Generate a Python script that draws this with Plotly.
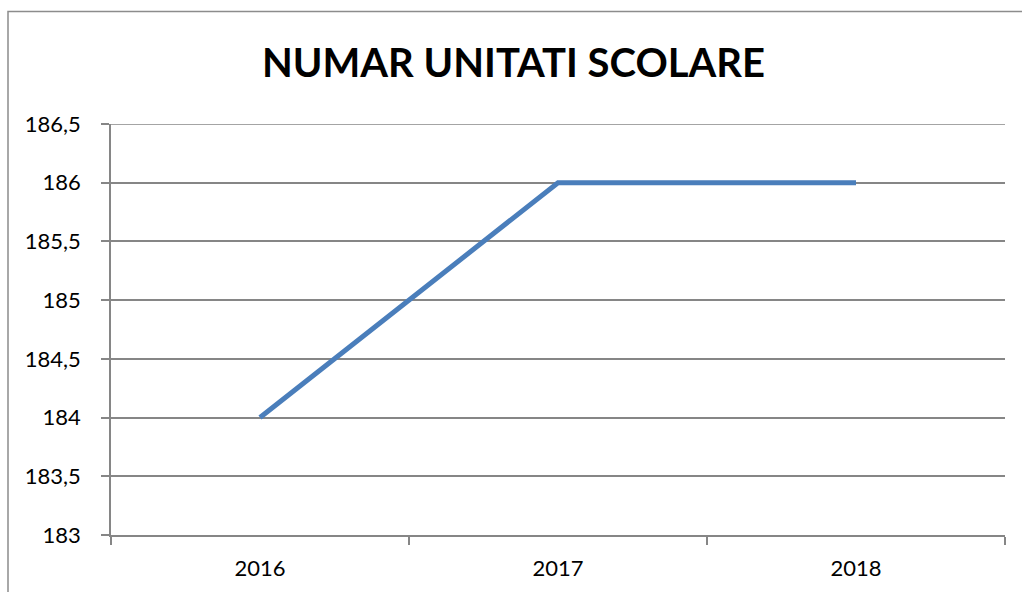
import plotly.graph_objects as go

title_text = "NUMAR UNITATI SCOLARE"
years = ["2016", "2017", "2018"]
units = [184, 186, 186]
y_tickvals = [183, 183.5, 184, 184.5, 185, 185.5, 186, 186.5]
y_ticktext = ["183", "183,5", "184", "184,5", "185", "185,5", "186", "186,5"]

W, H = 1022, 592
L, R, T, B = 111, 1005, 124, 535

fig = go.Figure()
fig.add_trace(go.Scatter(
    x=years, y=units, mode="lines",
    line=dict(color="#4A7EBB", width=5),
    showlegend=False, hoverinfo="x+y",
))

grid = "#868686"
fig.update_layout(
    width=W, height=H,
    margin=dict(l=L, r=W - R, t=T, b=H - B, pad=0),
    paper_bgcolor="white", plot_bgcolor="white",
    font=dict(family="Lato, Open Sans, sans-serif", color="black", size=22),
    title=dict(text="<b>" + title_text + "</b>", x=513.5 / W, xref="container",
               xanchor="center", y=1 - 63 / H, yref="container", yanchor="middle",
               font=dict(size=40, family="Lato, Open Sans, sans-serif", color="black")),
    xaxis=dict(type="category", range=[-0.5, 2.5], tickson="boundaries",
               ticks="outside", ticklen=8, tickcolor=grid, tickwidth=1.5,
               showline=True, linecolor=grid, linewidth=1.5,
               showgrid=False, zeroline=False, ticklabelstandoff=13,
               fixedrange=True),
    yaxis=dict(range=[min(y_tickvals), max(y_tickvals)], tickvals=y_tickvals, ticktext=y_ticktext,
               ticks="outside", ticklen=8, tickcolor=grid, tickwidth=1.5,
               showline=True, linecolor=grid, linewidth=1.5,
               showgrid=True, gridcolor=grid, gridwidth=1.5,
               zeroline=False, ticklabelstandoff=16, fixedrange=True),
    shapes=[dict(type="rect", xref="paper", yref="paper",
                 x0=(8 - L) / (R - L), x1=1.2,
                 y0=-0.3, y1=(B - 11.5) / (B - T),
                 line=dict(color="#8C8C8C", width=1.5), layer="below"),
            dict(type="line", xref="paper", yref="y", x0=0, x1=1,
                 y0=max(y_tickvals), y1=max(y_tickvals),
                 line=dict(color=grid, width=1.5), layer="below")],
)

fig.write_html("out.html", config={"displayModeBar": False},
               post_script="document.body.style.margin='0';document.body.style.overflow='hidden';")
